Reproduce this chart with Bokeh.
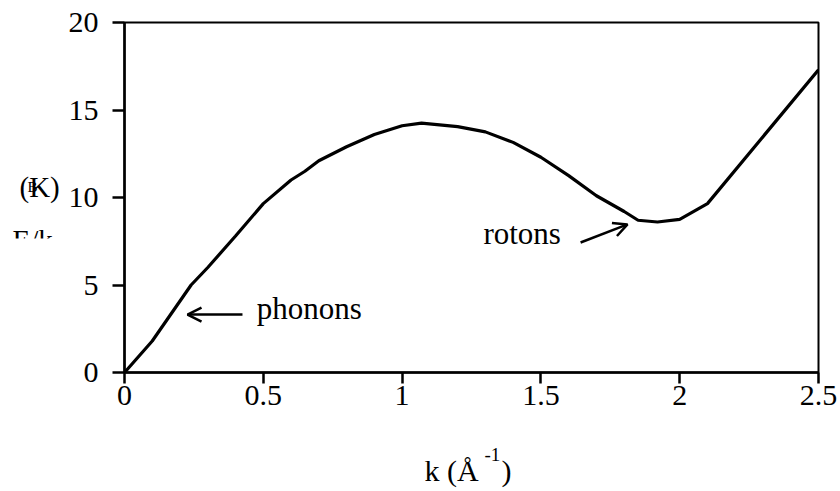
from bokeh.plotting import figure
from bokeh.models import Range1d, Label, Arrow, OpenHead, FixedTicker
from bokeh.embed import file_html
from bokeh.resources import INLINE

# Excitation spectrum of superfluid helium-4: energy E/k_B (K) against wavevector k (1/Å)
k_vals = [0.0, 0.1, 0.24, 0.3, 0.4, 0.5, 0.6, 0.65, 0.7, 0.8, 0.9, 1.0, 1.07,
          1.2, 1.3, 1.4, 1.5, 1.6, 1.7, 1.8, 1.85, 1.92, 2.0, 2.1, 2.5]
e_vals = [0.0, 1.8, 5.0, 6.0, 7.8, 9.65, 11.0, 11.5, 12.1, 12.9, 13.6, 14.1, 14.25,
          14.05, 13.75, 13.15, 12.3, 11.25, 10.1, 9.2, 8.7, 8.6, 8.75, 9.65, 17.3]

x_ticks = [0, 0.5, 1, 1.5, 2, 2.5]
y_ticks = [0, 5, 10, 15, 20]

FONT = "Liberation Serif"
FS = "30px"

p = figure(width=840, height=491, output_backend="svg", toolbar_location=None,
           x_range=Range1d(0, 2.5), y_range=Range1d(0, 20),
           min_border_left=124, min_border_right=22,
           min_border_top=22, min_border_bottom=119)

p.grid.visible = False
p.background_fill_color = "white"
p.border_fill_color = "white"
p.outline_line_color = "black"
p.outline_line_width = 2

for ax in (p.xaxis[0], p.yaxis[0]):
    ax.axis_line_color = "black"
    ax.axis_line_width = 2.5
    ax.major_tick_line_color = "black"
    ax.major_tick_line_width = 2.5
    ax.major_tick_in = 0
    ax.minor_tick_line_color = None
    ax.major_label_text_font = FONT
    ax.major_label_text_font_size = FS
    ax.major_label_text_color = "black"

p.xaxis.ticker = FixedTicker(ticks=x_ticks)
p.xaxis.major_tick_out = 11
p.xaxis.major_label_standoff = 2
p.xaxis.major_label_overrides = {0: "0", 1: "1", 2: "2"}

p.yaxis.ticker = FixedTicker(ticks=y_ticks)
p.yaxis.major_tick_out = 12
p.yaxis.major_label_standoff = 14

# dispersion curve
p.line(k_vals, e_vals, line_color="black", line_width=3.2)

# annotations
p.add_layout(Label(x=0.476, y=3.66, text="phonons", text_font=FONT,
                   text_font_size="31px", text_color="black", text_baseline="alphabetic"))
p.add_layout(Arrow(x_start=0.425, y_start=3.31, x_end=0.227, y_end=3.31,
                   line_color="black", line_width=2.5,
                   end=OpenHead(size=14, line_color="black", line_width=2.5)))

p.add_layout(Label(x=1.293, y=7.95, text="rotons", text_font=FONT,
                   text_font_size="31px", text_color="black", text_baseline="alphabetic"))
p.add_layout(Arrow(x_start=1.643, y_start=7.43, x_end=1.812, y_end=8.46,
                   line_color="black", line_width=2.5,
                   end=OpenHead(size=14, line_color="black", line_width=2.5)))


def panel_label(side, x, y, text, size, baseline="alphabetic", **kw):
    # labels placed in the border panels so they are not clipped to the frame
    p.add_layout(Label(x=x, y=y, x_units="canvas", y_units="canvas", text=text,
                       text_font=FONT, text_font_size=size, text_color="black",
                       text_baseline=baseline, **kw), side)


# x-axis title: k (Å^-1)
panel_label("below", 424, 470, "k (Å", FS)
panel_label("above", 484, 454, "-1", "19px")
panel_label("left", 501, 470, ")", FS)

# y-axis title: E/k_B (K); only the top edge of "E/k" stays visible
panel_label("left", 19, 186, "(K)", "29px")
panel_label("left", 27, 186, "B", "15px")
panel_label("below", 12, 239, "E/k", "29px")
panel_label("below", 4, 238, " " * 18, "15px", baseline="top",
            background_fill_color="white", background_fill_alpha=1.0)

open("out.html", "w").write(file_html(p, INLINE))
